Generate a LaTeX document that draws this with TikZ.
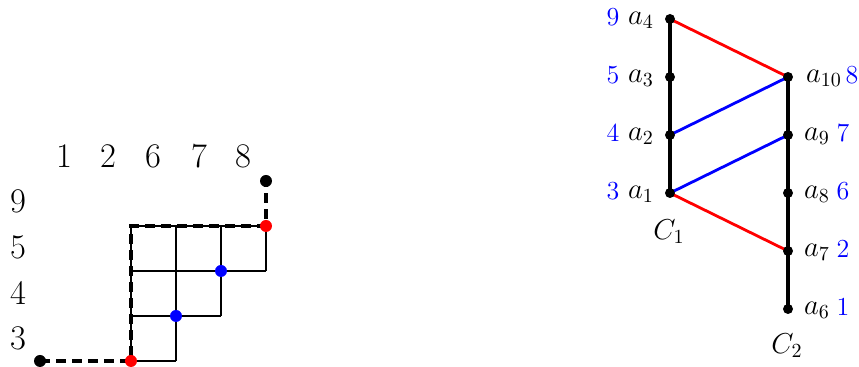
\documentclass[tikz,border=0pt]{standalone}
\begin{document}
\begin{tikzpicture}[x=0.5pt,y=-0.5pt,
  dot/.style={circle,fill,inner sep=0pt,minimum size=5pt},
  gdot/.style={circle,fill,inner sep=0pt,minimum size=6pt},
  gridline/.style={line width=0.7pt},
  dashpath/.style={line width=1.6pt,dash pattern=on 5pt off 3pt},
  chainline/.style={line width=1.8pt},
  redline/.style={red,line width=1.4pt},
  blueline/.style={blue,line width=1.4pt},
  lbl/.style={inner sep=0pt,font=\fontsize{14}{16}\selectfont},
  num/.style={blue,inner sep=0pt,font=\fontsize{13}{15}\selectfont},
  big/.style={font=\LARGE,inner sep=0pt}]
\useasboundingbox (0,0) rectangle (859,367);
% ---------- left: staircase grid ----------
\draw[gridline] (131,361)--(176,361) (131,316)--(221,316) (131,271)--(266,271)
  (131,226)--(266,226) (131,361)--(131,226) (176,361)--(176,226)
  (221,316)--(221,226) (266,271)--(266,226);
\coordinate (s) at (40,361);
\coordinate (r1) at (131,361);
\coordinate (c1) at (131,226);
\coordinate (r2) at (266,226);
\coordinate (e) at (266,181);
\coordinate (b1) at (176,316);
\coordinate (b2) at (221,271);
\draw[dashpath] (s)--(r1)--(c1)--(r2)--(e);
\node[gdot] at (s) {};
\node[gdot] at (e) {};
\node[gdot,red] at (r1) {};
\node[gdot,red] at (r2) {};
\node[gdot,blue] at (b1) {};
\node[gdot,blue] at (b2) {};
\node[big] (k1) at (64,156) {1};
\node[big] (k2) at (108,156) {2};
\node[big] (k6) at (153,156) {6};
\node[big] (k7) at (199,156) {7};
\node[big] (k8) at (243,156) {8};
\node[big] (r9) at (18,201) {9};
\node[big] (r5) at (18,247) {5};
\node[big] (r4) at (18,293) {4};
\node[big] (r3) at (18,338) {3};
% ---------- right: two chains ----------
\coordinate (a4) at (670,19);
\coordinate (a3) at (670,77);
\coordinate (a2) at (670,135);
\coordinate (a1) at (670,193);
\coordinate (a10) at (788,77);
\coordinate (a9) at (788,135);
\coordinate (a8) at (788,193);
\coordinate (a7) at (788,251);
\coordinate (a6) at (788,309);
\draw[chainline] (a4)--(a3)--(a2)--(a1);
\draw[chainline] (a10)--(a9)--(a8)--(a7)--(a6);
\draw[redline] (a4)--(a10);
\draw[redline] (a1)--(a7);
\draw[blueline] (a2)--(a10);
\draw[blueline] (a1)--(a9);
\foreach \p in {a1,a2,a3,a4,a6,a7,a8,a9,a10} \node[dot] at (\p) {};
\node[lbl] (la4) at (641,20) {$a_4$};
\node[lbl] (la3) at (641,78) {$a_3$};
\node[lbl] (la2) at (641,136) {$a_2$};
\node[lbl] (la1) at (641,194) {$a_1$};
\node[num] (n9) at (613,17) {9};
\node[num] (n5) at (613,75) {5};
\node[num] (n4) at (613,133) {4};
\node[num] (n3) at (613,191) {3};
\node[lbl] (la10) at (824,78) {$a_{10}$};
\node[lbl] (la9) at (817,136) {$a_9$};
\node[lbl] (la8) at (817,194) {$a_8$};
\node[lbl] (la7) at (817,252) {$a_7$};
\node[lbl] (la6) at (817,310) {$a_6$};
\node[num] (n8) at (852,75) {8};
\node[num] (n7) at (843,133) {7};
\node[num] (n6) at (843,191) {6};
\node[num] (n2) at (843,249) {2};
\node[num] (n1) at (843,307) {1};
\node[lbl] (C1) at (669,232) {$C_1$};
\node[lbl] (C2) at (787,346) {$C_2$};
\end{tikzpicture}
\end{document}
